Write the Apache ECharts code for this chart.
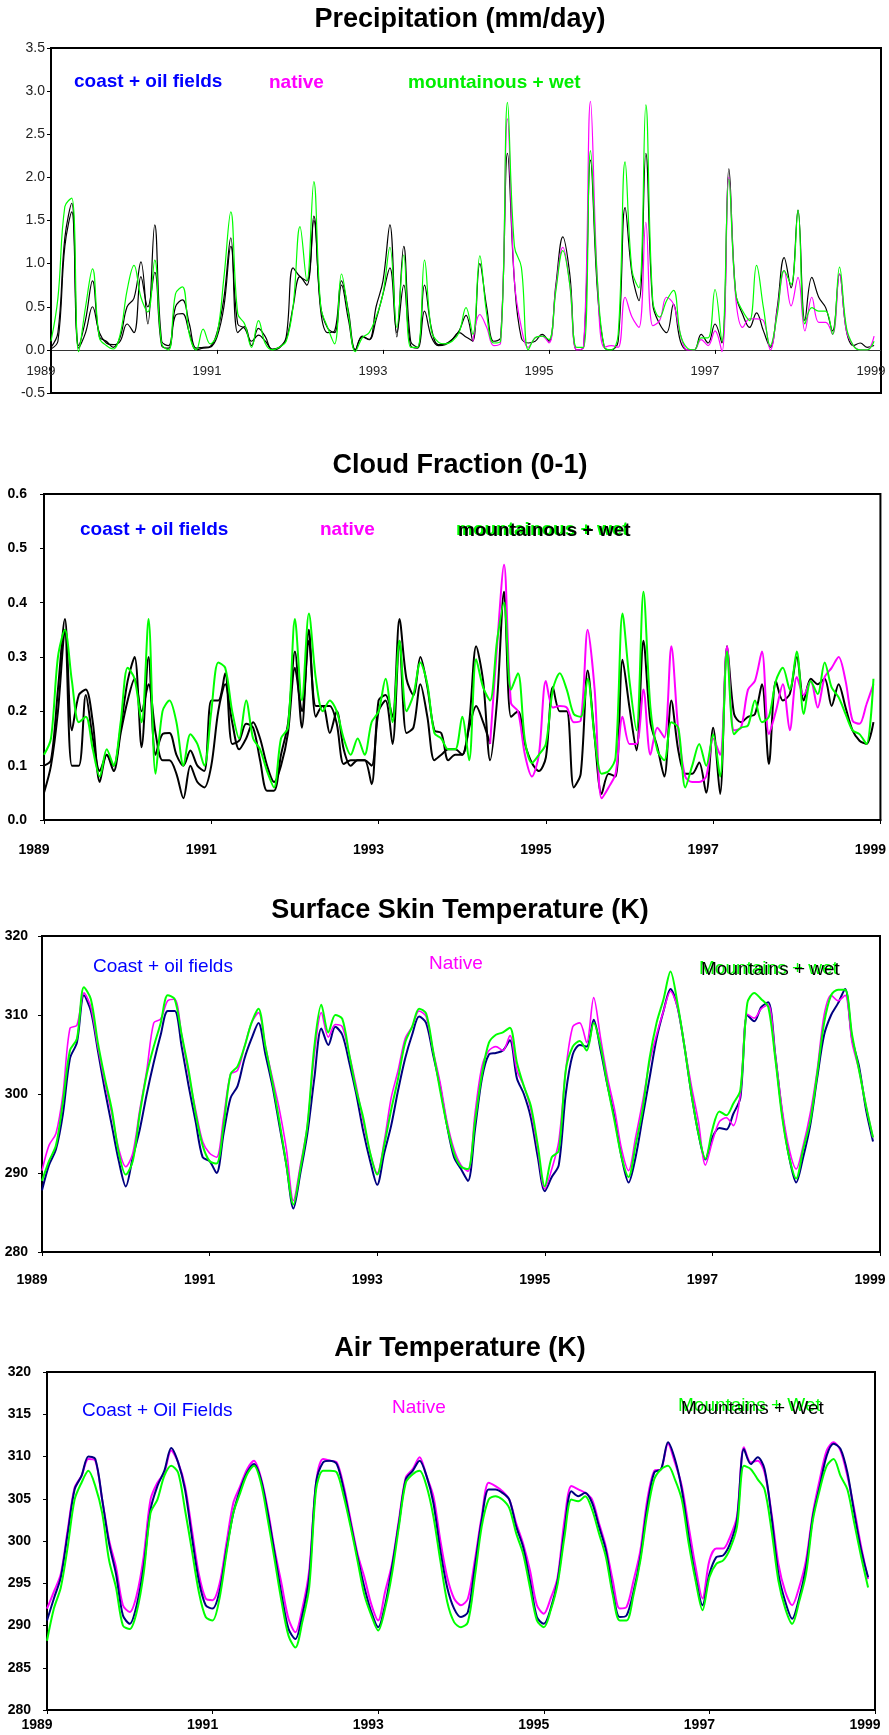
<!DOCTYPE html>
<html>
<head>
<meta charset="utf-8">
<title>Regional climate series 1989-1999</title>
<script src="https://cdn.jsdelivr.net/npm/echarts@6/dist/echarts.min.js"></script>
<style>
  html, body { margin: 0; padding: 0; background: #fff; }
  #chart { width: 889px; height: 1735px; }
</style>
</head>
<body>
<div id="chart"></div>
<script>
// monthly values, Jan 1989 .. Dec 1998
const startYear = 1989;
const yearTicks = [1989, 1991, 1993, 1995, 1997, 1999];

// Precipitation (mm/day)
const pcpCoast = [
  0.03, 0.2, 1.3, 1.7, 0.05, 0.35, 0.8, 0.15, 0.1, 0.03, 0.15, 0.5,
  0.6, 1.02, 0.3, 1.45, 0.1, 0.05, 0.5, 0.58, 0.3, 0.02, 0.03, 0.04,
  0.2, 0.6, 1.3, 0.2, 0.27, 0.05, 0.25, 0.15, 0.0, 0.02, 0.15, 0.95,
  0.85, 0.8, 1.55, 0.45, 0.2, 0.22, 0.8, 0.45, 0.0, 0.16, 0.12, 0.5,
  0.8, 1.45, 0.15, 1.2, 0.1, 0.03, 0.75, 0.25, 0.06, 0.07, 0.12, 0.22,
  0.4, 0.1, 1.0, 0.49, 0.1, 0.14, 2.28, 0.8, 0.14, 0.08, 0.1, 0.18,
  0.1, 0.76, 1.31, 0.88, 0.0, 0.03, 2.2, 0.69, 0.03, 0.0, 0.1, 1.65,
  0.88, 0.57, 2.28, 0.53, 0.3, 0.2, 0.53, 0.1, 0.0, 0.0, 0.18, 0.08,
  0.3, 0.08, 2.1, 0.65, 0.41, 0.26, 0.43, 0.22, 0.03, 0.49, 1.07, 0.72,
  1.62, 0.34, 0.84, 0.61, 0.49, 0.22, 0.88, 0.22, 0.05, 0.08, 0.03, 0.05
];
// second black trace, Jan 1989 .. Feb 1994
const pcpEarly = [
  0.01, 0.1, 1.2, 1.6, 0.02, 0.2, 0.5, 0.2, 0.08, 0.06, 0.1, 0.3,
  0.2, 0.85, 0.5, 0.9, 0.05, 0.02, 0.4, 0.42, 0.2, 0.0, 0.02, 0.03,
  0.15, 0.5, 1.2, 0.3, 0.25, 0.1, 0.17, 0.1, 0.01, 0.03, 0.12, 0.5,
  0.85, 0.75, 1.5, 0.5, 0.25, 0.2, 0.75, 0.35, 0.0, 0.15, 0.12, 0.35,
  0.65, 0.95, 0.2, 0.75, 0.05, 0.02, 0.45, 0.15, 0.05, 0.06, 0.12, 0.2,
  0.15, 0.1
];
const pcpNativeStart = 61; // Feb 1994
const pcpNative = [
  0.1, 0.41, 0.26, 0.05, 0.08, 2.68, 0.8, 0.26, 0.03, 0.14, 0.16,
  0.08, 0.72, 1.19, 0.76, 0.0, 0.03, 2.88, 0.8, 0.03, 0.05, 0.03, 0.61,
  0.38, 0.26, 1.48, 0.28, 0.34, 0.61, 0.53, 0.18, 0.0, 0.0, 0.12, 0.05,
  0.22, -0.02, 2.0, 0.6, 0.26, 0.36, 0.36, 0.34, 0.0, 0.45, 0.92, 0.51,
  0.84, 0.22, 0.61, 0.32, 0.32, 0.18, 0.88, 0.22, 0.05, 0.0, 0.0, 0.16
];
const pcpWet = [
  0.1, 0.6, 1.66, 1.76, -0.02, 0.5, 0.94, 0.14, 0.05, 0.01, 0.18, 0.69,
  0.98, 0.61, 0.44, 1.04, 0.07, 0.0, 0.65, 0.73, 0.18, 0.0, 0.24, 0.07,
  0.18, 0.84, 1.6, 0.42, 0.3, 0.03, 0.34, 0.07, 0.0, 0.03, 0.1, 0.5,
  1.43, 0.8, 1.95, 0.5, 0.26, 0.07, 0.88, 0.42, -0.02, 0.14, 0.2, 0.38,
  0.65, 1.19, 0.26, 1.1, 0.03, 0.03, 1.04, 0.22, 0.09, 0.07, 0.1, 0.2,
  0.49, 0.18, 1.09, 0.41, 0.08, 0.1, 2.87, 1.2, 0.96, 0.0, 0.14, 0.16,
  0.12, 0.69, 1.15, 0.76, 0.03, 0.03, 2.31, 0.8, 0.03, 0.0, 0.18, 2.18,
  0.92, 0.72, 2.84, 0.57, 0.38, 0.57, 0.69, 0.18, 0.02, 0.0, 0.14, 0.14,
  0.7, 0.1, 1.98, 0.65, 0.45, 0.34, 0.98, 0.49, 0.05, 0.41, 0.92, 0.76,
  1.62, 0.3, 0.49, 0.45, 0.45, 0.18, 0.96, 0.26, 0.05, 0.0, 0.0, 0.1
];

// Cloud fraction (0-1)
const cldCoast = [
  0.1, 0.11, 0.24, 0.37, 0.165, 0.23, 0.24, 0.18, 0.07, 0.12, 0.1, 0.17,
  0.256, 0.3, 0.134, 0.3, 0.12, 0.158, 0.16, 0.12, 0.1, 0.128, 0.1, 0.09,
  0.22, 0.22, 0.27, 0.14, 0.146, 0.177, 0.17, 0.11, 0.054, 0.054, 0.12, 0.177,
  0.31, 0.17, 0.35, 0.19, 0.21, 0.21, 0.177, 0.103, 0.11, 0.11, 0.11, 0.066,
  0.22, 0.23, 0.19, 0.37, 0.26, 0.23, 0.3, 0.245, 0.165, 0.16, 0.11, 0.12,
  0.12, 0.18, 0.32, 0.256, 0.11, 0.22, 0.42, 0.19, 0.2, 0.14, 0.105, 0.09,
  0.115, 0.245, 0.2, 0.2, 0.06, 0.085, 0.275, 0.152, 0.048, 0.085, 0.08, 0.295,
  0.207, 0.128, 0.33, 0.18, 0.134, 0.08, 0.22, 0.128, 0.085, 0.085, 0.106, 0.05,
  0.17, 0.048, 0.32, 0.195, 0.18, 0.19, 0.195, 0.25, 0.103, 0.256, 0.22, 0.232,
  0.3, 0.22, 0.26, 0.25, 0.26, 0.21, 0.25, 0.207, 0.165, 0.146, 0.14, 0.18
];
// second black trace, Jan 1989 .. May 1994
const cldEarly = [
  0.05, 0.1, 0.2, 0.35, 0.1, 0.1, 0.23, 0.15, 0.09, 0.12, 0.09, 0.16,
  0.22, 0.26, 0.2, 0.25, 0.16, 0.11, 0.11, 0.085, 0.04, 0.1, 0.07, 0.06,
  0.1, 0.2, 0.25, 0.18, 0.13, 0.15, 0.18, 0.15, 0.1, 0.07, 0.1, 0.16,
  0.28, 0.2, 0.33, 0.21, 0.21, 0.16, 0.2, 0.13, 0.1, 0.11, 0.11, 0.1,
  0.2, 0.22, 0.14, 0.33, 0.16, 0.17, 0.25, 0.19, 0.11, 0.12, 0.13, 0.13,
  0.12, 0.17, 0.21, 0.18, 0.14
];
const cldNativeStart = 64; // May 1994
const cldNative = [
  0.14, 0.32, 0.47, 0.215, 0.2, 0.12, 0.08, 0.12,
  0.256, 0.207, 0.21, 0.207, 0.18, 0.183, 0.35, 0.24, 0.04, 0.06, 0.085, 0.19,
  0.14, 0.14, 0.24, 0.12, 0.17, 0.152, 0.32, 0.165, 0.08, 0.07, 0.07, 0.08,
  0.15, 0.12, 0.32, 0.165, 0.17, 0.24, 0.256, 0.31, 0.158, 0.2, 0.25, 0.165,
  0.263, 0.23, 0.256, 0.207, 0.263, 0.28, 0.3, 0.256, 0.183, 0.177, 0.213, 0.25
];
const cldWet = [
  0.12, 0.15, 0.3, 0.35, 0.256, 0.18, 0.19, 0.13, 0.08, 0.13, 0.1, 0.18,
  0.28, 0.26, 0.18, 0.37, 0.085, 0.2, 0.22, 0.18, 0.1, 0.158, 0.14, 0.1,
  0.2, 0.29, 0.28, 0.2, 0.15, 0.22, 0.15, 0.13, 0.09, 0.06, 0.15, 0.17,
  0.37, 0.22, 0.38, 0.26, 0.2, 0.22, 0.2, 0.15, 0.12, 0.15, 0.12, 0.18,
  0.2, 0.26, 0.18, 0.33, 0.2, 0.23, 0.29, 0.25, 0.16, 0.15, 0.13, 0.13,
  0.19, 0.11, 0.296, 0.244, 0.22, 0.33, 0.4, 0.24, 0.27, 0.146, 0.105, 0.12,
  0.14, 0.24, 0.27, 0.24, 0.195, 0.19, 0.26, 0.152, 0.085, 0.09, 0.115, 0.38,
  0.256, 0.165, 0.42, 0.207, 0.128, 0.11, 0.18, 0.17, 0.06, 0.1, 0.14, 0.1,
  0.158, 0.08, 0.31, 0.158, 0.17, 0.174, 0.22, 0.18, 0.19, 0.256, 0.28, 0.24,
  0.31, 0.195, 0.256, 0.232, 0.29, 0.244, 0.226, 0.195, 0.165, 0.158, 0.14, 0.26
];

// Surface skin temperature (K)
const skinCoast = [
  287.8, 291, 293, 297.5, 304.5, 306.5, 312.5, 310.5, 305.5, 300.5, 296, 291.5,
  288.3, 292, 295.5, 300, 304, 307.5, 310.5, 310.5, 306, 301, 296.5, 292,
  291.5, 290, 295, 299.5, 301, 304.5, 307, 309, 305, 301, 296, 291,
  285.5, 290, 295, 302, 308.3, 306.2, 308.5, 307.5, 304, 300, 295.3, 291.5,
  288.5, 292.5, 296, 300.5, 304.5, 307.5, 309.8, 309, 305, 301, 296, 292,
  290.5, 289, 295.5, 302, 305, 305.2, 305.5, 306.8, 302, 300, 297, 292,
  287.7, 289.5, 291, 300, 305, 306.2, 306, 309.4, 305.5, 301, 297, 292,
  288.8, 292, 297, 302, 307, 310.5, 313.3, 311, 306, 300, 295, 291.7,
  294.5, 295.7, 295.5, 297.5, 299.5, 310, 309.2, 311, 311.6, 305, 297.5, 292,
  288.8, 292, 296, 302, 307.5, 310, 311.5, 313.3, 307, 303.5, 298, 294
];
const skinNative = [
  290.3, 293.5, 295, 300, 308.3, 308.7, 312.8, 311, 306, 301.5, 297.5, 293,
  290.8, 292.5, 298, 303, 309, 309.5, 311.8, 312, 307.5, 302.5, 298, 294,
  292.5, 292, 297, 302.5, 303, 306, 309, 310.3, 306, 302, 298, 293,
  286.5, 291, 296, 305, 310.3, 307.2, 308.8, 308.5, 305, 301, 296.5, 292.5,
  290, 294, 299.5, 303, 307, 308.5, 310.5, 309.8, 305.5, 301.5, 296.5, 293,
  291, 290.2, 297.5, 303.5, 305.5, 306, 305.5, 307.4, 303, 301, 298, 293,
  288, 290.5, 294, 303, 308.5, 309, 306.5, 312.2, 307, 302, 298, 293,
  290.3, 294.5, 299, 304, 307.5, 310.5, 313, 311, 306, 301, 296.5, 291,
  294, 296.5, 297, 296, 300, 310.1, 309.6, 310.8, 311.3, 305, 298, 293,
  290.5, 293.5, 297.5, 303, 310, 312.5, 311.8, 312.5, 306.5, 303, 298.5, 294.5
];
const skinWet = [
  289, 291.5, 293.5, 299, 305.5, 307, 313.5, 312, 306.5, 302, 298, 292.5,
  289.8, 291.5, 297.5, 302.5, 306, 309, 312.5, 312, 307.5, 303, 297.5, 293.5,
  291.5, 291.2, 296, 302.5, 303.5, 306, 309, 310.8, 306, 301.5, 296.5, 291,
  286, 290.5, 296, 306, 311.3, 307.8, 310, 309.5, 305, 300.5, 297, 292.5,
  289.8, 293.5, 298, 302, 306.5, 308.5, 310.8, 310.2, 305.5, 300.5, 296, 292.5,
  290.8, 290.5, 296.5, 302.5, 306.5, 307.5, 307.8, 308.4, 304, 301, 298.5, 293.5,
  288.3, 292, 292.8, 303, 306, 306.7, 305.5, 309, 306, 301, 296.5, 292,
  289.5, 293.5, 298, 304.5, 309, 312, 315.5, 311.5, 306, 300, 295, 291.8,
  295.5, 297.8, 297.3, 298.8, 300.5, 311.5, 312.8, 312, 311, 304.5, 297, 292,
  289.3, 293, 296.5, 302.5, 309, 312.5, 313.2, 313.2, 307.5, 303, 298.5, 294.5
];

// Air temperature (K)
const airCoast = [
  290.6, 293.2, 295.7, 300.9, 306.1, 307.7, 310, 309.7, 304.9, 299.7, 296.1, 291.2,
  290.2, 292.4, 296.9, 303.7, 306.5, 308.3, 311, 309.3, 306.1, 300.5, 295.3, 292.4,
  292, 294, 298.9, 303.3, 306.1, 308.1, 309.1, 307.3, 303.3, 298.5, 293.6, 289.6,
  288.4, 291.2, 295.7, 306.9, 309.3, 309.5, 309.1, 306.1, 302.1, 298.1, 294.5, 291.6,
  289.8, 292.4, 296.9, 302.1, 307.3, 308.3, 309.5, 307.7, 304.5, 298.9, 294.5, 292,
  291, 291.6, 296.9, 302.5, 306.1, 306.1, 305.7, 304.9, 301.7, 299.3, 295.3, 291,
  290.2, 292, 295.3, 301.3, 305.9, 305.3, 305.7, 304.5, 301.7, 298.9, 294, 291,
  291.2, 294, 298.1, 304.1, 308.1, 308.5, 311.7, 309.7, 306.1, 300.5, 295.7, 292.4,
  296.1, 298.1, 298.3, 299.7, 302.5, 310.9, 309.1, 309.9, 308.5, 302.9, 296.1, 292.8,
  290.8, 293.2, 296.9, 302.9, 306.5, 310.1, 311.5, 310.9, 308.1, 303.3, 298.9, 295.7
];
const airNative = [
  292, 294, 296.1, 301.3, 306.3, 307.7, 309.7, 309.5, 304.9, 300.1, 296.9, 292.4,
  291.6, 293.6, 298.1, 304.9, 306.9, 308.1, 310.7, 309.3, 306.5, 301.3, 296.1, 293.2,
  293, 294.9, 299.7, 304.5, 306.5, 308.5, 309.5, 307.5, 303.7, 298.9, 294.9, 290.8,
  289.2, 292, 296.5, 306.9, 309.7, 309.5, 309.3, 306.5, 302.5, 298.5, 295.7, 292.5,
  290.6, 294, 297.3, 302.5, 307.5, 308.5, 309.9, 307.7, 305.3, 300.1, 295.7, 293.2,
  292.4, 293.2, 297.7, 302.9, 306.9, 306.5, 305.9, 304.9, 302.1, 299.7, 296.5, 292.4,
  291.4, 293.2, 295.7, 302.5, 306.5, 306.1, 305.7, 304.9, 302.1, 299.3, 295.3, 292,
  292.2, 295.3, 298.9, 304.9, 308.3, 308.5, 311.5, 309.3, 306.5, 301.7, 296.9, 293.2,
  297.7, 299.1, 299.1, 300.5, 302.9, 311.1, 309.3, 309.5, 308.1, 303.3, 297.3, 294,
  292.4, 294.5, 297.7, 303.3, 307.3, 310.7, 311.7, 310.7, 307.7, 303.7, 299.3, 295.5
];
const airWet = [
  288.2, 292, 294.5, 299.3, 304.9, 306.9, 308.3, 306.5, 303.3, 297.7, 294.5, 290,
  289.6, 291.6, 296.1, 303.3, 304.9, 307.7, 308.9, 308.1, 303.7, 298.9, 294, 291,
  290.6, 293.2, 298.5, 303.3, 305.7, 307.9, 308.9, 306.9, 302.5, 297.7, 292.8, 288.8,
  287.4, 290.4, 294.5, 306.1, 308.3, 308.3, 308.1, 305.3, 301.7, 297.7, 293.6, 291.2,
  289.4, 292, 296.1, 301.7, 306.9, 307.9, 308.3, 306.5, 302.9, 297.7, 292.8, 290.4,
  289.8, 290.4, 295.7, 301.7, 304.9, 305.3, 304.9, 303.9, 300.9, 298.5, 294.5, 290.6,
  289.8, 291.8, 294.9, 300.5, 304.9, 304.7, 305.3, 303.7, 300.9, 298.1, 293.6, 290.6,
  290.6, 293.6, 297.7, 303.3, 307.3, 308.5, 308.9, 307.3, 304.9, 299.7, 295.3, 291.8,
  295.7, 297.3, 297.7, 299.1, 301.7, 308.9, 308.5, 307.3, 306.1, 301.3, 295.3, 292,
  290.2, 292.8, 296.1, 302.5, 306.1, 308.9, 309.7, 307.7, 306.1, 302.1, 298.1, 294.5
];

const FONT = '"Liberation Sans", Arial, Helvetica, sans-serif';
const BLUE = '#0000ff', PINK = '#ff00ff', GREEN = '#00ff00', NAVY = '#000080';

let chartDom = document.getElementById('chart');
let myChart = echarts.init(chartDom, null, { renderer: 'canvas' });

function xy(values, start) {
  return values.map((v, i) => [startYear + ((start || 0) + i) / 12, v]);
}

function line(idx, values, color, width, smooth, start) {
  return {
    type: 'line',
    xAxisIndex: idx,
    yAxisIndex: idx,
    data: xy(values, start),
    symbol: 'none',
    smooth: smooth,
    silent: true,
    lineStyle: { color: color, width: width },
    itemStyle: { color: color },
  };
}

const grids = [
  { left: 51, top: 48, width: 830, height: 345 },
  { left: 44, top: 494, width: 842, height: 326 },
  { left: 42, top: 936, width: 838, height: 316 },
  { left: 47, top: 1372, width: 828, height: 338 },
].map((g) => Object.assign({ show: true, borderColor: '#000', borderWidth: 2 }, g));

// per chart: label font, margins; precipitation x axis sits on the zero line
const axisLook = [
  { weight: 'normal', size: 13, ySize: 14, color: '#222', xMargin: 15, yMargin: 6, offset: -345 / 8, lineW: 1 },
  { weight: 'bold', size: 14, ySize: 14, color: '#000', xMargin: 23, yMargin: 17, offset: 0, lineW: 2 },
  { weight: 'bold', size: 14, ySize: 14, color: '#000', xMargin: 21, yMargin: 14, offset: 0, lineW: 2 },
  { weight: 'bold', size: 14, ySize: 14, color: '#000', xMargin: 8, yMargin: 16, offset: 0, lineW: 2 },
];

const xAxes = axisLook.map((a, i) => ({
  gridIndex: i,
  type: 'value',
  position: 'bottom',
  offset: a.offset,
  min: yearTicks[0],
  max: yearTicks[yearTicks.length - 1],
  interval: yearTicks[1] - yearTicks[0],
  splitLine: { show: false },
  axisLine: { onZero: false, lineStyle: { color: i === 0 ? '#333' : '#000', width: a.lineW } },
  axisTick: { length: 4, lineStyle: { color: '#000' } },
  axisLabel: {
    formatter: (v) => String(v),
    fontFamily: FONT,
    fontSize: a.size,
    fontWeight: a.weight,
    color: a.color,
    margin: a.xMargin,
    padding: [0, 20, 0, 0],
  },
}));

const yRanges = [
  { min: -0.5, max: 3.5, interval: 0.5, fmt: (v) => v.toFixed(1) },
  { min: 0, max: 0.6, interval: 0.1, fmt: (v) => v.toFixed(1) },
  { min: 280, max: 320, interval: 10, fmt: (v) => String(v) },
  { min: 280, max: 320, interval: 5, fmt: (v) => String(v) },
];

const yAxes = yRanges.map((r, i) => ({
  gridIndex: i,
  type: 'value',
  min: r.min,
  max: r.max,
  interval: r.interval,
  splitLine: { show: false },
  axisLine: { show: true, lineStyle: { color: '#000', width: 2 } },
  axisTick: { show: true, length: 4, lineStyle: { color: '#000' } },
  axisLabel: {
    formatter: r.fmt,
    fontFamily: FONT,
    fontSize: axisLook[i].ySize,
    fontWeight: axisLook[i].weight,
    color: axisLook[i].color,
    margin: axisLook[i].yMargin,
  },
}));

const titles = [
  ['Precipitation (mm/day)', 20],
  ['Cloud Fraction (0-1)', 466],
  ['Surface Skin Temperature (K)', 911],
  ['Air Temperature (K)', 1349],
];

// legend labels written inside each plot
const labels = [
  { text: 'coast + oil fields', x: 74, y: 82, color: BLUE, weight: 'bold' },
  { text: 'native', x: 269, y: 83, color: PINK, weight: 'bold' },
  { text: 'mountainous + wet', x: 408, y: 83, color: '#00ee00', weight: 'bold' },
  { text: 'coast + oil fields', x: 80, y: 530, color: BLUE, weight: 'bold' },
  { text: 'native', x: 320, y: 530, color: PINK, weight: 'bold' },
  { text: 'mountainous + wet', x: 458, y: 531, color: '#000', weight: 'bold', shade: [-2, -1] },
  { text: 'Coast + oil fields', x: 93, y: 967, color: BLUE, weight: 'normal' },
  { text: 'Native', x: 429, y: 964, color: PINK, weight: 'normal' },
  { text: 'Mountains + wet', x: 701, y: 970, color: '#000', weight: 'normal', shade: [-2, -1] },
  { text: 'Coast + Oil Fields', x: 82, y: 1411, color: BLUE, weight: 'normal' },
  { text: 'Native', x: 392, y: 1408, color: PINK, weight: 'normal' },
  { text: 'Mountains + Wet', x: 681, y: 1409, color: '#000', weight: 'normal', shade: [-3, -3] },
];

function textEl(text, x, y, font, fill, align) {
  return {
    type: 'text',
    x: x,
    y: y,
    silent: true,
    z: 100,
    style: {
      text: text,
      font: font,
      fill: fill,
      align: align,
      textAlign: align,
      verticalAlign: 'middle',
      textVerticalAlign: 'middle',
    },
  };
}

const graphics = [];
titles.forEach(([t, y]) => {
  graphics.push(textEl(t, 460, y, 'bold 27px ' + FONT, '#000', 'center'));
});
labels.forEach((l) => {
  const font = l.weight + ' 19px ' + FONT;
  if (l.shade) {
    graphics.push(textEl(l.text, l.x + l.shade[0], l.y + l.shade[1], font, GREEN, 'left'));
  }
  graphics.push(textEl(l.text, l.x, l.y, font, l.color, 'left'));
});

const series = [
  line(0, pcpCoast, '#000', 1.2, 0.4),
  line(0, pcpEarly, '#000', 1.2, 0.4),
  line(0, pcpNative, PINK, 1.2, 0.4, pcpNativeStart),
  line(0, pcpWet, GREEN, 1.2, 0.4),

  line(1, cldCoast, '#000', 2, 0.3),
  line(1, cldEarly, '#000', 2, 0.3),
  line(1, cldNative, PINK, 2, 0.3, cldNativeStart),
  line(1, cldWet, GREEN, 2, 0.3),

  line(2, skinCoast, NAVY, 2, 0.3),
  line(2, skinNative, PINK, 1.6, 0.3),
  line(2, skinWet, GREEN, 2, 0.3),

  line(3, airNative, PINK, 2, 0.3),
  line(3, airCoast, NAVY, 2, 0.3),
  line(3, airWet, GREEN, 2, 0.3),
];

let option = {
  animation: false,
  backgroundColor: '#fff',
  textStyle: { fontFamily: FONT },
  grid: grids,
  xAxis: xAxes,
  yAxis: yAxes,
  series: series,
  graphic: graphics,
};

option && myChart.setOption(option);
</script>
</body>
</html>
